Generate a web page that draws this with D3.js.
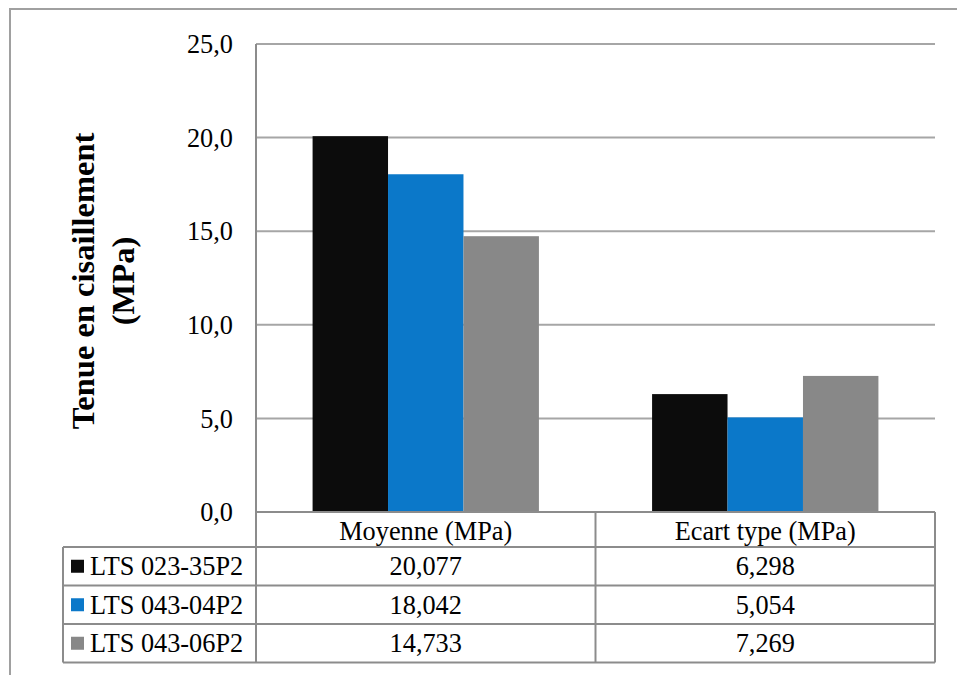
<!DOCTYPE html>
<html><head><meta charset="utf-8">
<script src="https://cdn.jsdelivr.net/npm/d3@7"></script>
<style>body{margin:0;background:#fff}svg{display:block}</style>
</head><body><svg id="c" width="957" height="675" font-family="'Liberation Serif', 'Times New Roman', Times, serif"></svg>
<script>
const categories = ["Moyenne (MPa)", "Ecart type (MPa)"];
const seriesNames = ["LTS 023-35P2", "LTS 043-04P2", "LTS 043-06P2"];
const seriesValues = [[20.077, 6.298], [18.042, 5.054], [14.733, 7.269]];
const tableLabels = [["20,077", "6,298"], ["18,042", "5,054"], ["14,733", "7,269"]];
const yTicks = [0, 5, 10, 15, 20, 25];
const colors = ["#0c0c0c", "#0b78c9", "#888888"];

const FONT = "Liberation Serif";
const FS = 26.3;
const svg = d3.select("#c");
const L = 256, R = 935, T = 44, B = 512;
const gridCol = "#a6a6a6", lineCol = "#8c8c8c";

svg.append("rect").attr("x", 10).attr("y", 9).attr("width", 960).attr("height", 680)
  .attr("fill", "none").attr("stroke", "#a0a0a0").attr("stroke-width", 2);

const y = d3.scaleLinear().domain([0, 25]).range([B, T]);
const x0 = d3.scaleBand().domain(categories).range([L, R]).paddingInner(0).paddingOuter(0);
const x1 = d3.scaleBand().domain(seriesNames).range([0, x0.bandwidth()]).paddingInner(0).paddingOuter(0.75);

// gridlines
svg.append("g").selectAll("line").data(yTicks.filter(d => d > 0)).join("line")
  .attr("x1", L).attr("x2", R).attr("y1", d => y(d)).attr("y2", d => y(d))
  .attr("stroke", gridCol).attr("stroke-width", 2);

// y axis tick labels
const fmt = d => d3.format(".1f")(d).replace(".", ",");
svg.append("g").selectAll("text").data(yTicks).join("text")
  .attr("font-family", FONT)
  .attr("x", 233).attr("y", d => y(d)).attr("dy", "0.35em").attr("text-anchor", "end")
  .attr("font-size", FS).text(fmt);

// bars
categories.forEach((c, ci) => {
  svg.append("g").selectAll("rect").data(seriesNames).join("rect")
    .attr("x", s => x0(c) + x1(s)).attr("width", x1.bandwidth())
    .attr("y", (s, si) => y(seriesValues[si][ci]))
    .attr("height", (s, si) => B - y(seriesValues[si][ci]))
    .attr("fill", (s, si) => colors[si]);
});

// y axis title
const yt = svg.append("text").attr("font-family", FONT).attr("font-size", 32.5).attr("font-weight", "bold").attr("text-anchor", "middle");
yt.append("tspan").attr("x", 0).attr("y", 0).text("Tenue en cisaillement");
yt.append("tspan").attr("x", 0).attr("y", 40).text("(MPa)");
yt.attr("transform", "translate(94,281) rotate(-90)");

// table
const rowTop = 547, rowH = 38.5, TL = 63;
const rowY = seriesNames.map((s, i) => rowTop + i * rowH);
const tb = svg.append("g").attr("stroke", lineCol).attr("stroke-width", 2);
tb.append("line").attr("x1", L).attr("x2", R).attr("y1", B).attr("y2", B);
[rowTop, ...rowY.map(v => v + rowH)].forEach(v => {
  tb.append("line").attr("x1", TL).attr("x2", R).attr("y1", v).attr("y2", v);
});
const bottom = rowTop + seriesNames.length * rowH;
tb.append("line").attr("x1", TL).attr("x2", TL).attr("y1", rowTop).attr("y2", bottom);
[L, ...categories.map(c => x0(c) + x0.bandwidth())].forEach(v => {
  tb.append("line").attr("x1", v).attr("x2", v).attr("y1", v === L ? T : B).attr("y2", bottom);
});

// header labels
svg.append("g").selectAll("text").data(categories).join("text")
  .attr("font-family", FONT)
  .attr("x", c => x0(c) + x0.bandwidth() / 2).attr("y", (B + rowTop) / 2 + 1).attr("dy", "0.35em")
  .attr("text-anchor", "middle").attr("font-size", FS).text(c => c);

// rows
seriesNames.forEach((s, si) => {
  const cy = rowY[si] + rowH / 2;
  svg.append("rect").attr("x", 71).attr("y", cy - 6.5).attr("width", 13).attr("height", 13).attr("fill", colors[si]);
  svg.append("text").attr("font-family", FONT).attr("x", 90).attr("y", cy).attr("dy", "0.35em").attr("font-size", FS).text(s);
  categories.forEach((c, ci) => {
    svg.append("text").attr("font-family", FONT).attr("x", x0(c) + x0.bandwidth() / 2).attr("y", cy).attr("dy", "0.35em")
      .attr("text-anchor", "middle").attr("font-size", FS).text(tableLabels[si][ci]);
  });
});
</script></body></html>
